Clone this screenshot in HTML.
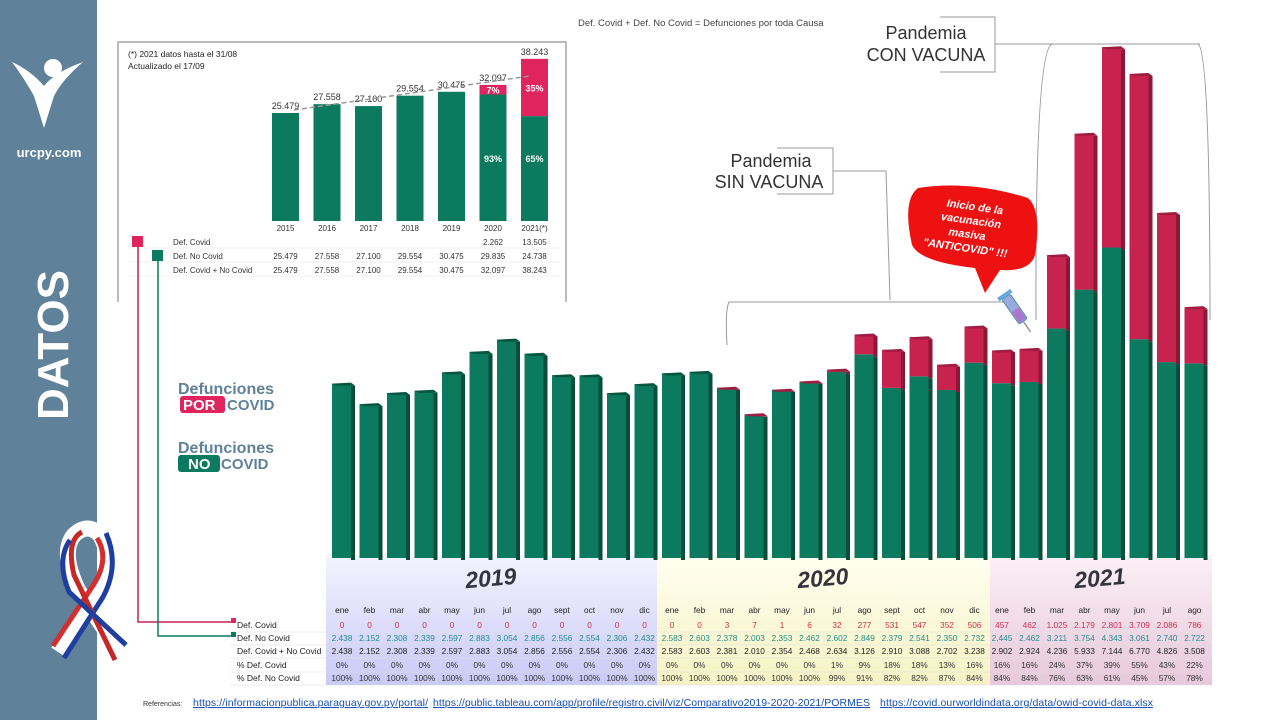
<!DOCTYPE html>
<html><head><meta charset="utf-8">
<style>
body{margin:0;width:1280px;height:720px;overflow:hidden;background:#fff;font-family:"Liberation Sans",sans-serif;}
svg{display:block}
text{font-family:"Liberation Sans",sans-serif}
</style></head>
<body>
<svg id="s" width="1280" height="720" viewBox="0 0 1280 720" xmlns="http://www.w3.org/2000/svg">
<defs>
<linearGradient id="g19" x1="0" y1="0" x2="0" y2="1"><stop offset="0" stop-color="#f4f4ff"/><stop offset="1" stop-color="#c9c9f6"/></linearGradient>
<linearGradient id="g20" x1="0" y1="0" x2="0" y2="1"><stop offset="0" stop-color="#fffff0"/><stop offset="1" stop-color="#f7f2c4"/></linearGradient>
<linearGradient id="g21" x1="0" y1="0" x2="0" y2="1"><stop offset="0" stop-color="#fbf0f5"/><stop offset="1" stop-color="#e7c8dc"/></linearGradient>
</defs>
<!-- sidebar -->
<rect x="0" y="0" width="97" height="720" fill="#5f8199"/>
<g fill="#fff">
<circle cx="53" cy="68" r="9"/>
<path d="M12 62 Q30 70 44 86 Q55 72 83 62 Q62 80 54 96 L44 128 L34 96 Q24 78 12 62Z"/>
</g>
<text x="49" y="157" text-anchor="middle" fill="#fff" font-size="13" font-weight="bold">urcpy.com</text>
<text transform="translate(68,420) rotate(-90)" fill="#fff" font-size="44" font-weight="bold">DATOS</text>
<g fill="none" stroke-linecap="butt">
<path d="M58 652 L98 590 Q115 560 100 535 Q88 522 74 535 Q60 552 78 590 L120 652" stroke="#fff" stroke-width="16"/>
<path d="M53 646 L94 584 Q110 558 97 538" stroke="#d32f2f" stroke-width="5"/>
<path d="M64 658 L103 597 Q120 565 106 533" stroke="#1f3fa0" stroke-width="5"/>
<path d="M82 532 Q66 540 74 575 L115 660" stroke="#c62828" stroke-width="5"/>
<path d="M70 540 Q56 560 69 592 L126 645" stroke="#1f3fa0" stroke-width="5"/>
</g>

<!-- top note -->
<text x="578" y="26" font-size="9.5" fill="#444">Def. Covid + Def. No Covid = Defunciones por toda Causa</text>

<!-- inset box -->
<g>
<path d="M118 302 L118 42 L566 42 L566 302" fill="none" stroke="#777" stroke-width="1"/>
<text x="128" y="57" font-size="8.5" fill="#222">(*) 2021 datos hasta el 31/08</text>
<text x="128" y="69" font-size="8.5" fill="#222">Actualizado el 17/09</text>
<g id="inset"></g>
</g>

<!-- legend markers and connectors -->
<rect x="132" y="236" width="11" height="11" fill="#e0245e"/>
<rect x="152" y="250" width="11" height="11" fill="#0b7a5e"/>
<path d="M138 247 L138 622 L232 622" fill="none" stroke="#c8234f" stroke-width="1.5"/>
<path d="M158 261 L158 636 L232 636" fill="none" stroke="#0b7a5e" stroke-width="1.5"/>

<!-- legend labels -->
<g>
<text x="178" y="394" font-size="16" font-weight="bold" fill="#5f8199">Defunciones</text>
<rect x="180" y="396" width="45" height="17" rx="3" fill="#e0245e"/>
<text x="183" y="410" font-size="15" font-weight="bold" fill="#fff">POR</text>
<text x="227" y="410" font-size="15" font-weight="bold" fill="#5f8199">COVID</text>
</g>
<g>
<text x="178" y="453" font-size="16" font-weight="bold" fill="#5f8199">Defunciones</text>
<rect x="178" y="455" width="42" height="17" rx="3" fill="#0b7a5e"/>
<text x="188" y="469" font-size="15" font-weight="bold" fill="#fff">NO</text>
<text x="221" y="469" font-size="15" font-weight="bold" fill="#5f8199">COVID</text>
</g>

<!-- year bands -->
<rect x="326" y="555" width="331" height="130" fill="url(#g19)"/>
<rect x="657" y="555" width="333" height="130" fill="url(#g20)"/>
<rect x="990" y="555" width="222" height="130" fill="url(#g21)"/>
<text x="491" y="586" text-anchor="middle" font-size="23" font-weight="bold" font-style="italic" fill="#34343e" transform="rotate(-5 491 580)">2019</text>
<text x="823" y="586" text-anchor="middle" font-size="23" font-weight="bold" font-style="italic" fill="#34343e" transform="rotate(-5 823 580)">2020</text>
<text x="1100" y="586" text-anchor="middle" font-size="23" font-weight="bold" font-style="italic" fill="#34343e" transform="rotate(-5 1100 580)">2021</text>

<!-- annotations -->
<g fill="none" stroke="#999" stroke-width="1">
<path d="M777 148 L833 148 L833 194 L777 194"/>
<path d="M833 171 L886 171 L890 300"/>
<path d="M727 345 Q725 310 729 302 L1010 302"/>
</g>
<text x="771" y="167" text-anchor="middle" font-size="18" fill="#333">Pandemia</text>
<text x="769" y="188" text-anchor="middle" font-size="18" fill="#333">SIN VACUNA</text>
<g fill="none" stroke="#999" stroke-width="1">
<path d="M940 17 L995 17 L995 72 L940 72"/>
<path d="M995 44 L1200 44"/>
<path d="M1052 44 Q1035 50 1036 320"/>
<path d="M1198 44 Q1210 50 1210 320"/>
</g>
<text x="926" y="39" text-anchor="middle" font-size="18" fill="#333">Pandemia</text>
<text x="926" y="61" text-anchor="middle" font-size="18" fill="#333">CON VACUNA</text>

<!-- callout -->
<g>
<path d="M918 188 Q970 180 1028 198 Q1042 210 1035 255 Q1030 272 1000 270 L985 293 L975 268 Q920 262 912 245 Q902 200 918 188Z" fill="#ee1111"/>
<g transform="rotate(8 970 228)" fill="#fff" font-size="11" font-weight="bold" font-style="italic" text-anchor="middle">
<text x="972" y="210">Inicio de la</text>
<text x="970" y="224">vacunación</text>
<text x="968" y="238">masiva</text>
<text x="968" y="252">"ANTICOVID" !!!</text>
</g>
<g transform="rotate(-35 1020 315)">
<rect x="1014" y="292" width="10" height="30" rx="2" fill="#9ad" stroke="#58a" stroke-width="1"/>
<rect x="1015" y="308" width="8" height="13" fill="#a7c"/>
<line x1="1019" y1="322" x2="1019" y2="335" stroke="#999" stroke-width="1.5"/>
<rect x="1011" y="288" width="16" height="4" fill="#6ad"/>
</g>
</g>

<g id="bars"></g>
<g id="table"></g>

<g font-size="10.5">
<text x="143" y="706" font-size="7" fill="#333">Referencias:</text>
<text x="193" y="706" fill="#1a4fb5" text-decoration="underline" textLength="235">https://informacionpublica.paraguay.gov.py/portal/</text>
<text x="433" y="706" fill="#1a4fb5" text-decoration="underline" textLength="437">https://public.tableau.com/app/profile/registro.civil/viz/Comparativo2019-2020-2021/PORMES</text>
<text x="880" y="706" fill="#1a4fb5" text-decoration="underline" textLength="273">https://covid.ourworldindata.org/data/owid-covid-data.xlsx</text>
</g>
</svg>
<script>
const months=["ene","feb","mar","abr","may","jun","jul","ago","sept","oct","nov","dic","ene","feb","mar","abr","may","jun","jul","ago","sept","oct","nov","dic","ene","feb","mar","abr","may","jun","jul","ago"];
const covid=[0,0,0,0,0,0,0,0,0,0,0,0,0,0,3,7,1,6,32,277,531,547,352,506,457,462,1025,2179,2801,3709,2086,786];
const noCovid=[2438,2152,2308,2339,2597,2883,3054,2856,2556,2554,2306,2432,2583,2603,2378,2003,2353,2462,2602,2849,2379,2541,2350,2732,2445,2462,3211,3754,4343,3061,2740,2722];
const years=["2015","2016","2017","2018","2019","2020","2021(*)"];
const yCovid=[0,0,0,0,0,2262,13505];
const yNoCovid=[25479,27558,27100,29554,30475,29835,24738];

const NS="http://www.w3.org/2000/svg";
function el(t,a,p){const e=document.createElementNS(NS,t);for(const k in a)e.setAttribute(k,a[k]);p.appendChild(e);return e;}
function fmt(v){return v.toString().replace(/\B(?=(\d{3})+(?!\d))/g,".");}

// main bars
const bx=i=>332+i*27.5;
const by=v=>558-v*0.0715;
const bars=document.getElementById('bars');
months.forEach((m,i)=>{
  const g=el('g',{},bars);
  
  
  const tot=covid[i]+noCovid[i];
  const x=bx(i),w=19,yN=by(noCovid[i]),yT=by(tot);
  el('rect',{x:x+w,y:yN+2,width:4,height:558-yN,fill:'#064d3b'},g);
  el('rect',{x:x,y:yN,width:w,height:558-yN,fill:'#0b7a5e'},g);
  if(covid[i]>0){
    el('rect',{x:x+w,y:yT+2,width:4,height:yN-yT,fill:'#8c1737'},g);
    el('rect',{x:x,y:yT,width:w,height:yN-yT,fill:'#c8234f'},g);
    el('polygon',{points:`${x},${yT} ${x+w},${yT-1} ${x+w+4},${yT+2} ${x+4},${yT+2}`,fill:'#a01d42'},g);
  } else {
    el('polygon',{points:`${x},${yN} ${x+w},${yN-1} ${x+w+4},${yN+2} ${x+4},${yN+2}`,fill:'#06553f'},g);
  }
});

// table
const tb=document.getElementById('table');
const rowY=[610,625,638,651,665,678];
const labels=["Def. Covid","Def. No Covid","Def. Covid + No Covid","% Def. Covid","% Def. No Covid"];
labels.forEach((l,r)=>{
  const t=el('text',{x:237,y:rowY[r+1]+3,'font-size':8.5,fill:'#222'},tb);
  t.textContent=l;
  el('line',{x1:230,y1:rowY[r+1]+7,x2:1212,y2:rowY[r+1]+7,stroke:'#ddd','stroke-width':0.5},tb);
});
el('rect',{x:231,y:618,width:5,height:5,fill:'#e0245e'},tb);
el('rect',{x:231,y:632,width:5,height:5,fill:'#0b7a5e'},tb);
months.forEach((m,i)=>{
  const cx=bx(i)+10;
  const tot=covid[i]+noCovid[i];
  const pc=Math.round(covid[i]/tot*100);
  const vals=[m,fmt(covid[i]),fmt(noCovid[i]),fmt(tot),pc+"%",(100-pc)+"%"];
  const cols=['#222','#d0304f','#1f8f8a','#222','#333','#333'];
  vals.forEach((v,r)=>{
    const t=el('text',{x:cx,y:rowY[r]+3,'text-anchor':'middle','font-size':8.3,fill:cols[r]},tb);
    
    
    t.textContent=v;
  });
});

// inset chart
const ins=document.getElementById('inset');
const ix=i=>272+i*41.5;
const iy=v=>221-v*0.00424;
years.forEach((y,i)=>{
  const g=el('g',{},ins);
  
  
  const tot=yCovid[i]+yNoCovid[i];
  el('rect',{x:ix(i),y:iy(yNoCovid[i]),width:27,height:221-iy(yNoCovid[i]),fill:'#0b7a5e'},g);
  if(yCovid[i]>0){
    el('rect',{x:ix(i),y:iy(tot),width:27,height:iy(yNoCovid[i])-iy(tot),fill:'#e0245e'},g);
    const pc=Math.round(yCovid[i]/tot*100);
    let t=el('text',{x:ix(i)+13.5,y:(iy(tot)+iy(yNoCovid[i]))/2+4,'text-anchor':'middle','font-size':9,'font-weight':'bold',fill:'#fff'},g);t.textContent=pc+"%";
    t=el('text',{x:ix(i)+13.5,y:162,'text-anchor':'middle','font-size':9,'font-weight':'bold',fill:'#fff'},g);t.textContent=(100-pc)+"%";
  }
  let t=el('text',{x:ix(i)+13.5,y:iy(tot)-4,'text-anchor':'middle','font-size':9,fill:'#333'},g);t.textContent=fmt(tot);
  t=el('text',{x:ix(i)+13.5,y:231,'text-anchor':'middle','font-size':8,fill:'#333'},ins);t.textContent=y;
  const vals=[yCovid[i]?fmt(yCovid[i]):"",fmt(yNoCovid[i]),fmt(tot)];
  vals.forEach((v,r)=>{const tt=el('text',{x:ix(i)+13.5,y:245+r*14,'text-anchor':'middle','font-size':8,fill:'#333'},ins);tt.textContent=v;});
});
["Def. Covid","Def. No Covid","Def. Covid + No Covid"].forEach((l,r)=>{
  const t=el('text',{x:173,y:245+r*14,'font-size':8,fill:'#333'},ins);t.textContent=l;
  el('line',{x1:128,y1:248+r*14,x2:560,y2:248+r*14,stroke:'#e4e4e4','stroke-width':0.6},ins);
});
el('line',{x1:ix(0)+22,y1:iy(yNoCovid[0])-3,x2:ix(6)+10,y2:iy(yCovid[6]+yNoCovid[6])+17,stroke:'#999','stroke-width':1.5,'stroke-dasharray':'5,3'},ins);
</script>
</body></html>
